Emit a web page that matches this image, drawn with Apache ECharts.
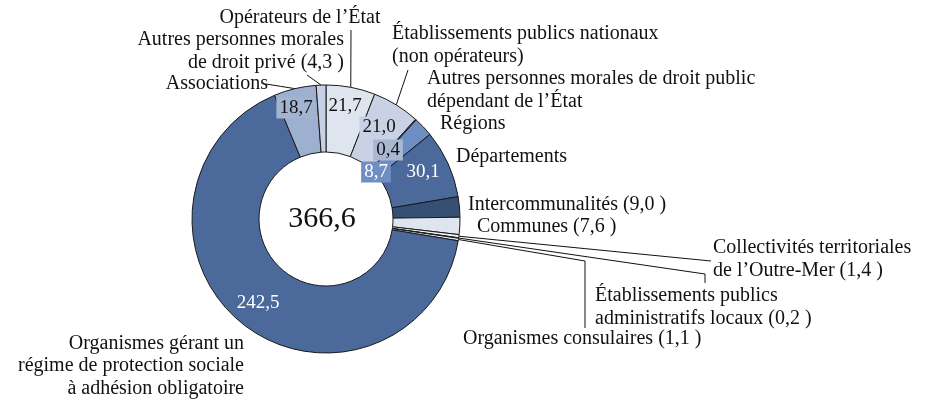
<!DOCTYPE html>
<html>
<head>
<meta charset="utf-8">
<script src="https://cdn.jsdelivr.net/npm/echarts@6/dist/echarts.min.js"></script>
<style>
  html, body { margin: 0; padding: 0; background: #ffffff; }
  #chart { width: 930px; height: 410px; }
</style>
</head>
<body>
<div id="chart"></div>
<script>
// ---------------- data ----------------
const categories = [
  "Opérateurs de l’État",
  "Établissements publics nationaux\n(non opérateurs)",
  "Autres personnes morales de droit public\ndépendant de l’État",
  "Régions",
  "Départements",
  "Intercommunalités",
  "Communes",
  "Collectivités territoriales\nde l’Outre-Mer",
  "Établissements publics\nadministratifs locaux",
  "Organismes consulaires",
  "Organismes gérant un\nrégime de protection sociale\nà adhésion obligatoire",
  "Associations",
  "Autres personnes morales\nde droit privé"
];
const values = [21.7, 21.0, 0.4, 8.7, 30.1, 9.0, 7.6, 1.4, 0.2, 1.1, 242.5, 18.7, 4.3];
// which slices carry their value inside the ring / inside the outer name label
const valueInside = [true, true, true, true, true, false, false, false, false, false, true, true, false];
const valueInName = [false, false, false, false, false, true, true, true, true, true, false, false, true];
const totalLabel = "366,6";

// ---------------- styles / layout ----------------
const colors = ["#dfe5ef", "#c8d2e4", "#a9b7d3", "#6e8dc2", "#4b6a9b", "#364f73", "#dfe5ef",
                "#eef1f6", "#ffffff", "#dfe5ef", "#4b6a9b", "#9eb0cf", "#c6d1e5"];
const CX = 326, CY = 219, R_IN = 67, R_OUT = 134;
const FONT = '"Liberation Serif", "DejaVu Serif", serif';

const outerPos = [
  { x: 300, y: 18, align: "center" },
  { x: 392, y: 45, align: "left" },
  { x: 427, y: 90, align: "left" },
  { x: 440, y: 124, align: "left" },
  { x: 456, y: 157, align: "left" },
  { x: 468, y: 205, align: "left" },
  { x: 477, y: 227, align: "left" },
  { x: 713, y: 259, align: "left" },
  { x: 595, y: 307, align: "left" },
  { x: 463, y: 339, align: "left" },
  { x: 244, y: 366, align: "right" },
  { x: 268, y: 84, align: "right" },
  { x: 344, y: 51, align: "right" }
];
const leaderEnds = {
  0: [[351, 30]],
  1: [[408, 70]],
  7: [[711, 261]],
  8: [[705, 274], [705, 283]],
  9: [[585, 261], [585, 328]],
  11: [[266, 84]],
  12: [[307, 75]]
};
const innerPos = {
  0: [345, 106], 1: [379, 127], 2: [388, 150], 3: [376, 172],
  4: [423, 172], 10: [258, 303], 11: [296, 108]
};
const innerStyle = {
  0: { color: "#111" },
  1: { color: "#111", backgroundColor: colors[1] },
  2: { color: "#111", backgroundColor: "#aab7d2" },
  3: { color: "#fff", backgroundColor: "#6f8ec3" },
  4: { color: "#fff" },
  10: { color: "#fff" },
  11: { color: "#111", backgroundColor: "#a3b4d1" }
};

// ---------------- helpers ----------------
const fmt = v => v.toFixed(1).replace(".", ",");
const sum = values.reduce((a, b) => a + b, 0);
function anchorOf(i) {
  let before = 0;
  for (let k = 0; k < i; k++) before += values[k];
  const th = (before + values[i] / 2) / sum * Math.PI * 2;
  return [CX + R_OUT * Math.sin(th), CY - R_OUT * Math.cos(th)];
}

const outerData = values.map((v, i) => ({
  name: categories[i] + (valueInName[i] ? " (" + fmt(v) + " )" : ""),
  value: v,
  itemStyle: { color: colors[i] },
  labelLine: { show: !!leaderEnds[i] }
}));
const innerData = values.map((v, i) => ({
  name: categories[i],
  value: v,
  label: valueInside[i]
    ? Object.assign({ show: true, padding: [1, 3] }, innerStyle[i])
    : { show: false }
}));

const chart = echarts.init(document.getElementById("chart"), null, { renderer: "canvas" });
chart.setOption({
  backgroundColor: "#ffffff",
  animation: false,
  graphic: [{
    type: "text", x: CX - 4, y: CY, z: 100,
    style: { text: totalLabel, font: '30px ' + FONT, fill: "#111",
             textAlign: "center", textVerticalAlign: "middle" }
  }],
  series: [
    {
      type: "pie",
      center: [CX, CY],
      radius: [R_IN, R_OUT],
      startAngle: 90,
      clockwise: true,
      avoidLabelOverlap: false,
      silent: true,
      emphasis: { disabled: true },
      itemStyle: { borderColor: "#1a1a1a", borderWidth: 1 },
      label: {
        show: true, position: "outside", formatter: "{b}",
        fontFamily: FONT, fontSize: 20, lineHeight: 22.5, color: "#111"
      },
      labelLine: { show: true, lineStyle: { color: "#111", width: 1 } },
      labelLayout: function (p) {
        const i = p.dataIndex;
        const pos = outerPos[i];
        const res = { x: pos.x, y: pos.y, align: pos.align, verticalAlign: "middle" };
        if (leaderEnds[i]) {
          const a = anchorOf(i);
          let pts = [a].concat(leaderEnds[i]);
          if (pts.length === 2) {
            pts = [a, [(a[0] + pts[1][0]) / 2, (a[1] + pts[1][1]) / 2], pts[1]];
          }
          res.labelLinePoints = pts;
        }
        return res;
      },
      data: outerData
    },
    {
      type: "pie",
      center: [CX, CY],
      radius: [R_IN, R_OUT],
      startAngle: 90,
      clockwise: true,
      avoidLabelOverlap: false,
      silent: true,
      emphasis: { disabled: true },
      itemStyle: { color: "rgba(0,0,0,0)", borderWidth: 0 },
      label: {
        position: "inside",
        formatter: p => fmt(p.value),
        fontFamily: FONT, fontSize: 19, lineHeight: 19
      },
      labelLine: { show: false },
      labelLayout: function (p) {
        const pos = innerPos[p.dataIndex];
        if (!pos) return {};
        return { x: pos[0], y: pos[1], align: "center", verticalAlign: "middle" };
      },
      data: innerData
    }
  ]
});
</script>
</body>
</html>
